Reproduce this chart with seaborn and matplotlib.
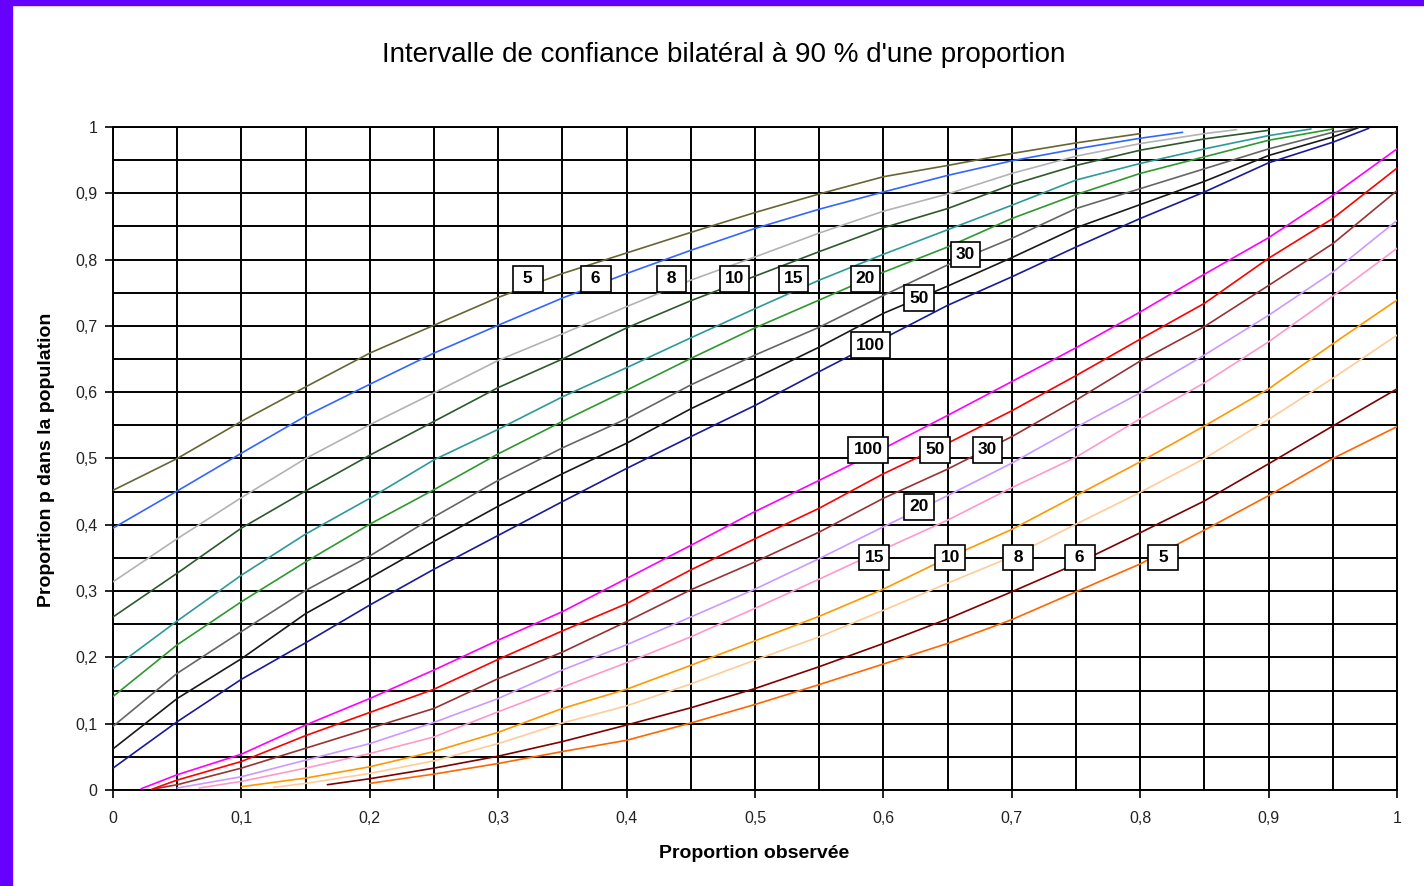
import matplotlib
matplotlib.use("Agg")
import pandas as pd
import seaborn as sns
import matplotlib.pyplot as plt
from matplotlib.patches import Rectangle
from matplotlib.ticker import MultipleLocator, FuncFormatter

# Taille d'echantillon de chaque courbe
tailles = [5, 6, 8, 10, 15, 20, 30, 50, 100]

# Abscisses communes (proportion observee)
x_grille = [0.00, 0.05, 0.10, 0.15, 0.20, 0.25, 0.30, 0.35, 0.40, 0.45, 0.50,
            0.55, 0.60, 0.65, 0.70, 0.75, 0.80, 0.85, 0.90, 0.95, 1.00]

# Fin des bornes superieures / debut des bornes inferieures
fin_haut = [0.80, 0.833, 0.875, 0.90, 0.933, 0.95, 0.967, 0.97, 0.978]
debut_bas = [0.20, 0.167, 0.125, 0.10, 0.067, 0.05, 0.033, 0.03, 0.022]

# Bornes superieures
haut_5 = [.452, .500, .556, .608, .659, .701, .743, .779, .810, .841, .871, .899, .925, .942, .960, .976, .990]
haut_6 = [.395, .451, .508, .564, .612, .659, .701, .742, .779, .814, .847, .876, .902, .927, .949, .967, .983, .992]
haut_8 = [.314, .379, .441, .500, .551, .599, .648, .688, .729, .769, .804, .840, .873, .899, .930, .956, .975, .990, .996]
haut_10 = [.261, .327, .395, .451, .505, .556, .607, .650, .697, .738, .775, .812, .848, .877, .913, .942, .965, .982, .995]
haut_15 = [.183, .255, .324, .386, .440, .498, .544, .593, .637, .682, .726, .769, .808, .845, .882, .920, .945, .967, .987, .997]
haut_20 = [.141, .219, .284, .344, .401, .453, .507, .556, .603, .651, .697, .739, .781, .819, .862, .898, .930, .955, .980, .997]
haut_30 = [.096, .176, .239, .301, .353, .412, .467, .516, .560, .611, .656, .698, .746, .792, .832, .877, .907, .937, .967, .992, .998]
haut_50 = [.062, .138, .198, .266, .320, .375, .428, .477, .523, .575, .621, .668, .719, .760, .803, .848, .883, .918, .957, .985, .999]
haut_100 = [.033, .103, .167, .222, .279, .333, .384, .435, .485, .533, .580, .631, .681, .731, .774, .819, .862, .902, .946, .977, .998]

# Bornes inferieures
bas_5 = [.010, .024, .040, .058, .075, .101, .129, .159, .190, .221, .257, .299, .341, .392, .444, .500, .548]
bas_6 = [.008, .017, .033, .051, .073, .098, .124, .153, .186, .221, .258, .299, .341, .388, .436, .492, .549, .605]
bas_8 = [.004, .010, .025, .044, .070, .101, .127, .160, .196, .231, .271, .312, .352, .401, .449, .500, .559, .621, .686]
bas_10 = [.005, .018, .035, .058, .087, .123, .152, .188, .225, .262, .303, .350, .393, .444, .495, .549, .605, .673, .739]
bas_15 = [.003, .013, .033, .055, .080, .118, .155, .192, .231, .274, .318, .363, .407, .456, .502, .560, .614, .676, .745, .817]
bas_20 = [.003, .020, .045, .070, .102, .138, .181, .219, .261, .303, .349, .397, .444, .493, .547, .599, .656, .716, .781, .859]
bas_30 = [.002, .008, .033, .063, .093, .123, .168, .208, .254, .302, .344, .389, .440, .484, .533, .588, .647, .699, .761, .824, .904]
bas_50 = [.001, .015, .043, .082, .117, .152, .197, .240, .281, .332, .379, .425, .477, .523, .572, .625, .680, .734, .802, .862, .938]
bas_100 = [.002, .023, .054, .098, .138, .181, .226, .269, .319, .369, .420, .467, .515, .565, .616, .667, .721, .778, .833, .897, .967]

haut = [haut_5, haut_6, haut_8, haut_10, haut_15, haut_20, haut_30, haut_50, haut_100]
bas = [bas_5, bas_6, bas_8, bas_10, bas_15, bas_20, bas_30, bas_50, bas_100]

couleurs_haut = ["#666633", "#3366ff", "#b3b3b3", "#2d5a2d", "#2e9999",
                 "#2e992e", "#666666", "#1a1a1a", "#1a1a99"]
couleurs_bas = ["#ff6600", "#800000", "#ffcc99", "#ff9900", "#ff99cc",
                "#cc99ff", "#993333", "#ff0000", "#ff00ff"]

# Etiquettes des courbes (position du centre de la boite)
etiq_haut_x = [0.323, 0.376, 0.435, 0.484, 0.530, 0.586, 0.664, 0.628, 0.590]
etiq_haut_y = [0.771, 0.771, 0.771, 0.771, 0.771, 0.771, 0.808, 0.742, 0.671]
etiq_bas_x = [0.818, 0.753, 0.705, 0.652, 0.593, 0.628, 0.681, 0.640, 0.588]
etiq_bas_y = [0.351, 0.351, 0.351, 0.351, 0.351, 0.427, 0.513, 0.513, 0.513]

# Table longue pour seaborn
lignes = []
palette = {}
for i, n in enumerate(tailles):
    xs = [x for x in x_grille if x < fin_haut[i] - 1e-9] + [fin_haut[i]]
    for x, y in zip(xs, haut[i]):
        lignes.append({"x": x, "y": y, "courbe": f"haut {n}"})
    palette[f"haut {n}"] = couleurs_haut[i]
    xs = [debut_bas[i]] + [x for x in x_grille if x > debut_bas[i] + 1e-9]
    for x, y in zip(xs, bas[i]):
        lignes.append({"x": x, "y": y, "courbe": f"bas {n}"})
    palette[f"bas {n}"] = couleurs_bas[i]
df = pd.DataFrame(lignes)

sns.set_theme(style="white")
plt.rcParams['font.family'] = ['Liberation Sans', 'DejaVu Sans']

W, H = 1424, 886
fig = plt.figure(figsize=(W / 100, H / 100), dpi=100)
fig.patch.set_facecolor("white")
ax = fig.add_axes([113 / W, 1 - 790 / H, 1284 / W, 663 / H])

sns.lineplot(data=df, x="x", y="y", hue="courbe", palette=palette,
             estimator=None, sort=False, legend=False, linewidth=1.2, ax=ax, zorder=3)

ax.set_xlim(0, 1)
ax.set_ylim(0, 1)
ax.xaxis.set_major_locator(MultipleLocator(0.1))
ax.yaxis.set_major_locator(MultipleLocator(0.1))
ax.xaxis.set_minor_locator(MultipleLocator(0.05))
ax.yaxis.set_minor_locator(MultipleLocator(0.05))
fmt = FuncFormatter(lambda v, p: "0" if abs(v) < 1e-9 else ("1" if abs(v - 1) < 1e-9 else f"{v:.1f}".replace(".", ",")))
ax.xaxis.set_major_formatter(fmt)
ax.yaxis.set_major_formatter(fmt)
ax.grid(which="both", color="black", linewidth=1.4)
ax.set_axisbelow(True)
ax.tick_params(which="major", direction="out", length=6, width=1.2, color="black",
               labelsize=11.5, labelcolor="#222222", bottom=True, left=True)
ax.tick_params(axis="x", pad=9)
ax.tick_params(axis="y", pad=5)
ax.tick_params(which="minor", length=0)
for s in ax.spines.values():
    s.set_color("black")
    s.set_linewidth(1.4)
ax.set_xlabel("")
ax.set_ylabel("")

for i, n in enumerate(tailles):
    txt = f" {n} " if n < 10 else str(n)
    for ex, ey in ((etiq_haut_x[i], etiq_haut_y[i]), (etiq_bas_x[i], etiq_bas_y[i])):
        ax.text(ex, ey, txt, ha="center", va="center", fontsize=12.5, fontweight="bold",
                color="black", zorder=5,
                bbox=dict(boxstyle="square,pad=0.3", fc="white", ec="black", lw=1.2))

fig.text(724 / W, 1 - 55 / H, "Intervalle de confiance bilatéral à 90 % d'une proportion",
         ha="center", va="center", fontsize=20, color="black")
fig.text(754 / W, 1 - 853 / H, "Proportion observée", ha="center", va="center",
         fontsize=14, fontweight="bold", color="black")
fig.text(47 / W, 1 - 460 / H, "Proportion p dans la population", ha="center", va="center",
         rotation=90, fontsize=14, fontweight="bold", color="black")

# Cadre violet
fig.patches.append(Rectangle((0, 0), 12 / W, 1, transform=fig.transFigure,
                             color="#6600ff", zorder=0))
fig.patches.append(Rectangle((0, 1 - 5 / H), 1, 5 / H, transform=fig.transFigure,
                             color="#6600ff", zorder=0))

fig.savefig("out.png", dpi=100)
